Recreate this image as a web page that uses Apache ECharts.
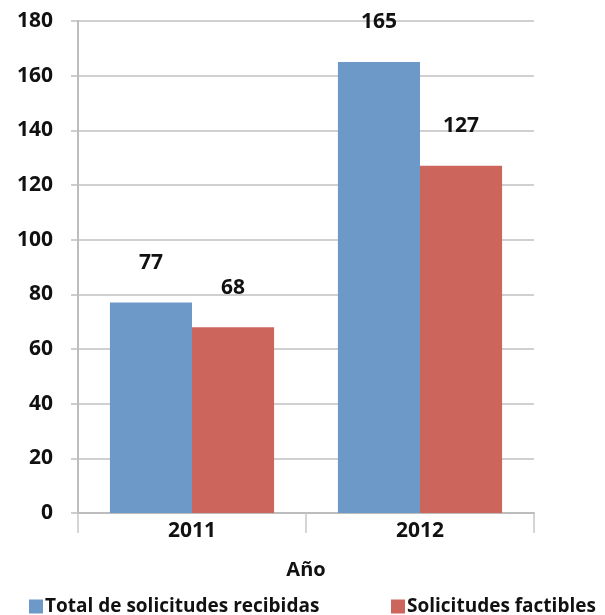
<!DOCTYPE html>
<html>
<head>
<meta charset="utf-8">
<script src="https://cdn.jsdelivr.net/npm/echarts@6/dist/echarts.min.js"></script>
<style>
  html, body { margin: 0; padding: 0; background: #fff; }
  #chart { width: 605px; height: 615px; }
</style>
</head>
<body>
<div id="chart"></div>
<script>
// datos
const years = ['2011', '2012'];
const totalRecibidas = [77, 165];
const factibles = [68, 127];
const yTicks = { min: 0, max: 180, interval: 20 };

const font = '"Open Sans", "DejaVu Sans", sans-serif';
const chart = echarts.init(document.getElementById('chart'));

const labelStyle = {
  show: true,
  position: 'top',
  distance: 29,
  color: '#111',
  fontFamily: font,
  fontSize: 21,
  fontWeight: 'bold'
};

const legendText = { fontFamily: font, fontSize: 19, fontWeight: 'bold', color: '#111', padding: [0, 0, 0, -3] };

chart.setOption({
  animation: false,
  grid: { left: 78, right: 71, top: 21, bottom: 102 },
  legend: [
    {
      data: ['Total de solicitudes recibidas'],
      left: 24, top: 592,
      icon: 'rect', itemWidth: 14, itemHeight: 14,
      textStyle: legendText
    },
    {
      data: ['Solicitudes factibles'],
      left: 386, top: 592,
      icon: 'rect', itemWidth: 14, itemHeight: 14,
      textStyle: legendText
    }
  ],
  xAxis: {
    type: 'category',
    data: years,
    name: 'Año',
    nameLocation: 'middle',
    nameGap: 47,
    nameTextStyle: { fontFamily: font, fontSize: 20, fontWeight: 'bold', color: '#111' },
    axisLine: { lineStyle: { color: '#bdbdbd', width: 2 } },
    axisTick: { show: true, length: 20, lineStyle: { color: '#c8c8c8', width: 1.5 } },
    axisLabel: { fontFamily: font, fontSize: 21, fontWeight: 'bold', color: '#111', margin: 8 }
  },
  yAxis: {
    type: 'value',
    min: yTicks.min,
    max: yTicks.max,
    interval: yTicks.interval,
    axisLine: { show: true, lineStyle: { color: '#bdbdbd', width: 2 } },
    axisTick: { show: true, length: 7, lineStyle: { color: '#bdbdbd', width: 1.5 } },
    axisLabel: { fontFamily: font, fontSize: 21, fontWeight: 'bold', color: '#111', margin: 25 },
    splitLine: { show: true, lineStyle: { color: '#d0d0d0', width: 2 } }
  },
  series: [
    {
      name: 'Total de solicitudes recibidas',
      type: 'bar',
      data: totalRecibidas,
      barGap: '0%',
      barCategoryGap: '28%',
      itemStyle: { color: '#6d99c9' },
      label: labelStyle
    },
    {
      name: 'Solicitudes factibles',
      type: 'bar',
      data: factibles,
      itemStyle: { color: '#cc665c' },
      label: labelStyle
    }
  ]
});
</script>
</body>
</html>
